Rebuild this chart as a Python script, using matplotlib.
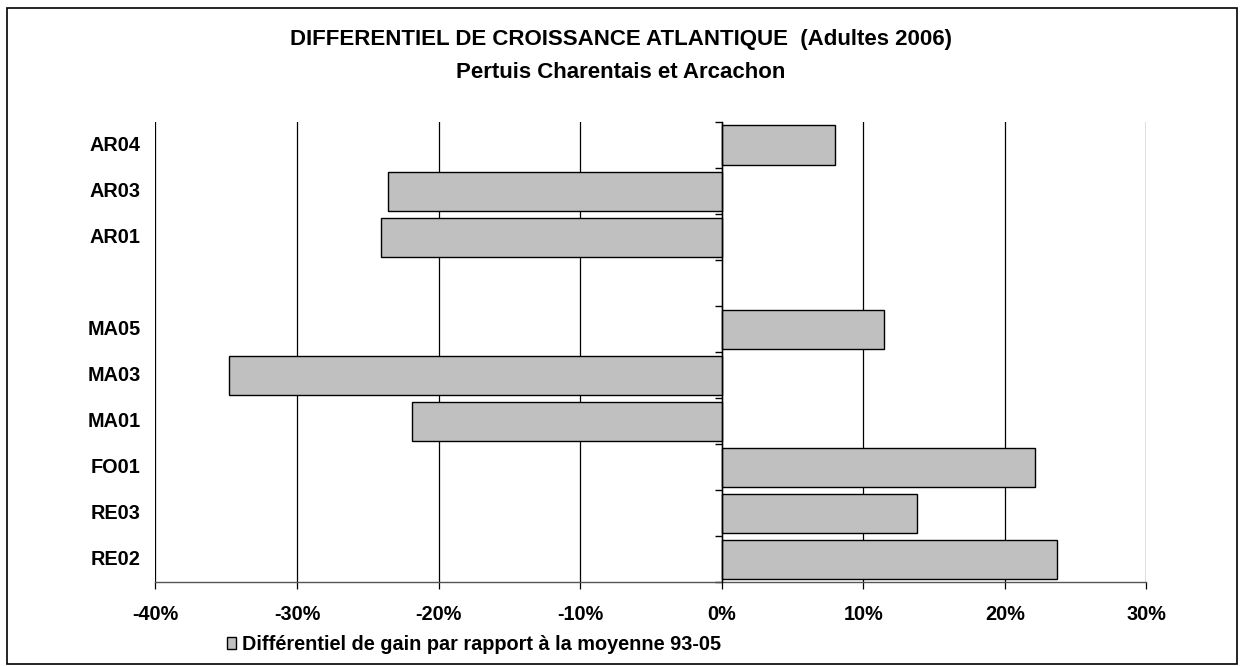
import numpy as np
import matplotlib
matplotlib.use("Agg")
import matplotlib.pyplot as plt
from matplotlib.patches import Rectangle
from matplotlib.ticker import FuncFormatter

# Données (de bas en haut), case vide entre MA05 et AR01
sites = ["RE02", "RE03", "FO01", "MA01", "MA03", "MA05", "", "AR01", "AR03", "AR04"]
differentiel = [23.7, 13.8, 22.1, -21.9, -34.8, 11.5, np.nan, -24.1, -23.6, 8.0]
xticks = [-40, -30, -20, -10, 0, 10, 20, 30]

titre1 = "DIFFERENTIEL DE CROISSANCE ATLANTIQUE  (Adultes 2006)"
titre2 = "Pertuis Charentais et Arcachon"
legende = "Différentiel de gain par rapport à la moyenne 93-05"

plt.rcParams['font.family'] = ['Liberation Sans', 'DejaVu Sans']
TAILLE = 14.3

fig = plt.figure(figsize=(12.42, 6.66), dpi=100)
ax = fig.add_axes([0.1252, 0.1254, 0.7978, 0.6914])

y = np.arange(len(sites))
ax.barh(y, differentiel, height=0.85, color="#c0c0c0", edgecolor="black",
        linewidth=1.0, zorder=3, label=legende)

ax.set_xlim(-40, 30)
ax.set_ylim(-0.5, len(sites) - 0.5)

# grille verticale
for v in xticks:
    ax.axvline(v, color="black", linewidth=0.9, zorder=1)

ax.set_xticks(xticks)
ax.xaxis.set_major_formatter(FuncFormatter(lambda v, p: f"{v:.0f}%"))
ax.tick_params(axis="x", direction="out", length=5, width=0.9, pad=11,
               labelsize=TAILLE)
for lab in ax.get_xticklabels():
    lab.set_fontweight("bold")

# axe des catégories à 0
ax.spines["top"].set_visible(False)
ax.spines["right"].set_visible(False)
ax.spines["left"].set_position(("data", 0))
ax.spines["left"].set_linewidth(1.0)
ax.spines["left"].set_zorder(4)
ax.spines["bottom"].set_color("#555555")
ax.spines["bottom"].set_linewidth(1.0)
ax.set_yticks(y)
ax.set_yticklabels([])
ax.tick_params(axis="y", length=0)
ax.set_yticks(np.arange(len(sites) + 1) - 0.5, minor=True)
ax.tick_params(axis="y", which="minor", direction="out", length=5, width=1.0)

for yi, s in zip(y, sites):
    ax.text(-0.015, yi, s, transform=ax.get_yaxis_transform(), ha="right",
            va="center", fontsize=TAILLE, fontweight="bold")

fig.text(0.5, 1 - 40 / 666, titre1, ha="center", va="center", fontsize=16,
         fontweight="bold")
fig.text(0.5, 1 - 73 / 666, titre2, ha="center", va="center", fontsize=16,
         fontweight="bold")

leg = fig.legend(loc="center left", bbox_to_anchor=(0.176, 0.032), frameon=False,
                 fontsize=TAILLE, handlelength=0.5, handleheight=0.5,
                 handletextpad=0.3, borderaxespad=0)
for t in leg.get_texts():
    t.set_fontweight("bold")

# cadre extérieur
fig.patches.append(Rectangle((7 / 1242, 2 / 666), 1230 / 1242, 656 / 666,
                             transform=fig.transFigure, fill=False,
                             edgecolor="black", linewidth=1.2))

fig.savefig("out.png", dpi=100)
